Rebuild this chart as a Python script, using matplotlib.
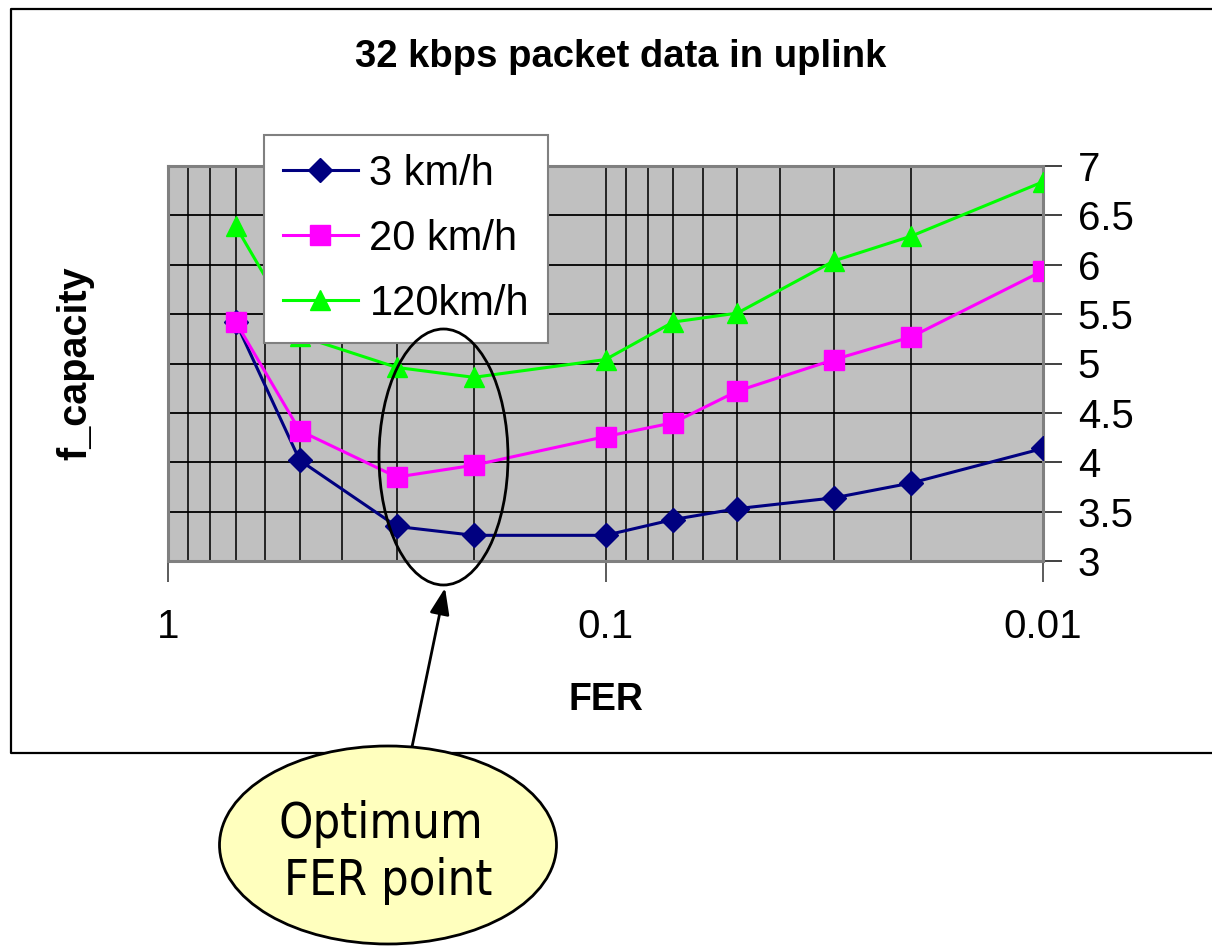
import matplotlib
matplotlib.use("Agg")
import matplotlib.pyplot as plt
from matplotlib.lines import Line2D
from matplotlib.patches import Ellipse, FancyArrowPatch
from matplotlib.ticker import FixedLocator, NullFormatter

W, H = 1212, 950

FER = [0.7, 0.5, 0.3, 0.2, 0.1, 0.07, 0.05, 0.03, 0.02, 0.01]
CAP_3KMH = [5.42, 4.02, 3.35, 3.26, 3.26, 3.42, 3.53, 3.64, 3.79, 4.14]
CAP_20KMH = [5.42, 4.32, 3.85, 3.97, 4.26, 4.40, 4.72, 5.04, 5.27, 5.94]
CAP_120KMH = [6.39, 5.28, 4.96, 4.86, 5.04, 5.42, 5.51, 6.04, 6.29, 6.84]
SERIES_LABELS = ["3 km/h", "20 km/h", "120km/h"]

X_TICKS = [1, 0.1, 0.01]
X_TICK_LABELS = ["1", "0.1", "0.01"]
X_MINOR = [0.9, 0.8, 0.7, 0.6, 0.5, 0.4, 0.3, 0.2,
           0.09, 0.08, 0.07, 0.06, 0.05, 0.04, 0.03, 0.02]
Y_TICKS = [3, 3.5, 4, 4.5, 5, 5.5, 6, 6.5, 7]
Y_TICK_LABELS = ["3", "3.5", "4", "4.5", "5", "5.5", "6", "6.5", "7"]


def px(x, y):
    # pixel position in the 1212x950 image -> figure fraction
    return x / W, 1 - y / H


plt.rcParams["font.family"] = ["Liberation Sans", "DejaVu Sans"]

fig = plt.figure(figsize=(W / 100, H / 100), dpi=100)
fig.patch.set_facecolor("white")

# outer chart frame (open on the right side)
fx = [x / W for x in (W + 20, 11, 11, W + 20)]
fy = [1 - y / H for y in (9, 9, 753, 753)]
fig.add_artist(Line2D(fx, fy, transform=fig.transFigure, color="black", lw=1.6))

ax = fig.add_axes([168 / W, 1 - 561 / H, (1043 - 168) / W, (561 - 166) / H])
ax.set_facecolor("#C0C0C0")
ax.set_xscale("log")
ax.set_xlim(1, 0.01)
ax.set_ylim(3, 7)

ax.xaxis.set_major_locator(FixedLocator(X_TICKS))
ax.set_xticklabels(X_TICK_LABELS)
ax.xaxis.set_minor_locator(FixedLocator(X_MINOR))
ax.xaxis.set_minor_formatter(NullFormatter())
ax.yaxis.tick_right()
ax.set_yticks(Y_TICKS)
ax.set_yticklabels(Y_TICK_LABELS)

ax.tick_params(axis="x", which="major", direction="out", length=15, width=1.2,
               color="#404040", labelsize=29, pad=19)
ax.tick_params(axis="x", which="minor", length=0)
ax.tick_params(axis="y", which="major", direction="out", length=14, width=1.2,
               color="#202020", labelsize=29, pad=11)

ax.grid(True, which="both", axis="x", color="#181818", lw=1.3)
ax.grid(True, which="major", axis="y", color="#000000", lw=1.3)
ax.set_axisbelow(True)
for side in ("left", "right", "top", "bottom"):
    ax.spines[side].set_color("#808080")
    ax.spines[side].set_linewidth(2.2)

ax.plot(FER, CAP_3KMH, color="#000080", lw=2.2, marker="D", ms=12,
        label=SERIES_LABELS[0], zorder=3)
ax.plot(FER, CAP_20KMH, color="#FF00FF", lw=2.2, marker="s", ms=14.5,
        label=SERIES_LABELS[1], zorder=4)
ax.plot(FER, CAP_120KMH, color="#00FF00", lw=2.2, marker="^", ms=14.5,
        label=SERIES_LABELS[2], zorder=5)

leg = ax.legend(loc="upper left", bbox_to_anchor=px(264, 135),
                bbox_transform=fig.transFigure, borderaxespad=0,
                fontsize=30, handlelength=1.8, handletextpad=0.28,
                labelspacing=0.6, borderpad=0.45, fancybox=False,
                framealpha=1, edgecolor="#808080")
leg.get_frame().set_linewidth(1.5)
leg.set_zorder(10)

fig.text(*px(621, 67), "32 kbps packet data in uplink", ha="center",
         va="baseline", fontsize=27.5, fontweight="bold")
fig.text(*px(606, 710), "FER", ha="center", va="baseline",
         fontsize=27, fontweight="bold")
fig.text(*px(75, 363), "f_capacity", ha="center", va="center",
         rotation=90, fontsize=28.5, fontweight="bold")

# ellipse marking the optimum region
fig.add_artist(Ellipse(px(443.5, 457), 129 / W, 256 / H, transform=fig.transFigure,
                       fill=False, edgecolor="black", lw=2))

# callout bubble with arrow
fig.add_artist(FancyArrowPatch(px(412, 747), px(445, 588), transform=fig.transFigure,
                               arrowstyle="-|>,head_length=0.8,head_width=0.3",
                               mutation_scale=20, color="black", lw=2,
                               shrinkA=0, shrinkB=0))
fig.add_artist(Ellipse(px(388, 845), 337 / W, 198 / H, transform=fig.transFigure,
                       facecolor="#FFFFBE", edgecolor="black", lw=2, zorder=3))
fig.text(*px(381, 838), "Optimum", ha="center", va="baseline",
         fontsize=35, family="DejaVu Sans", fontstretch="condensed", zorder=4)
fig.text(*px(388, 895), "FER point", ha="center", va="baseline",
         fontsize=35, family="DejaVu Sans", fontstretch="condensed", zorder=4)

fig.savefig("out.png", dpi=100)
plt.close(fig)
